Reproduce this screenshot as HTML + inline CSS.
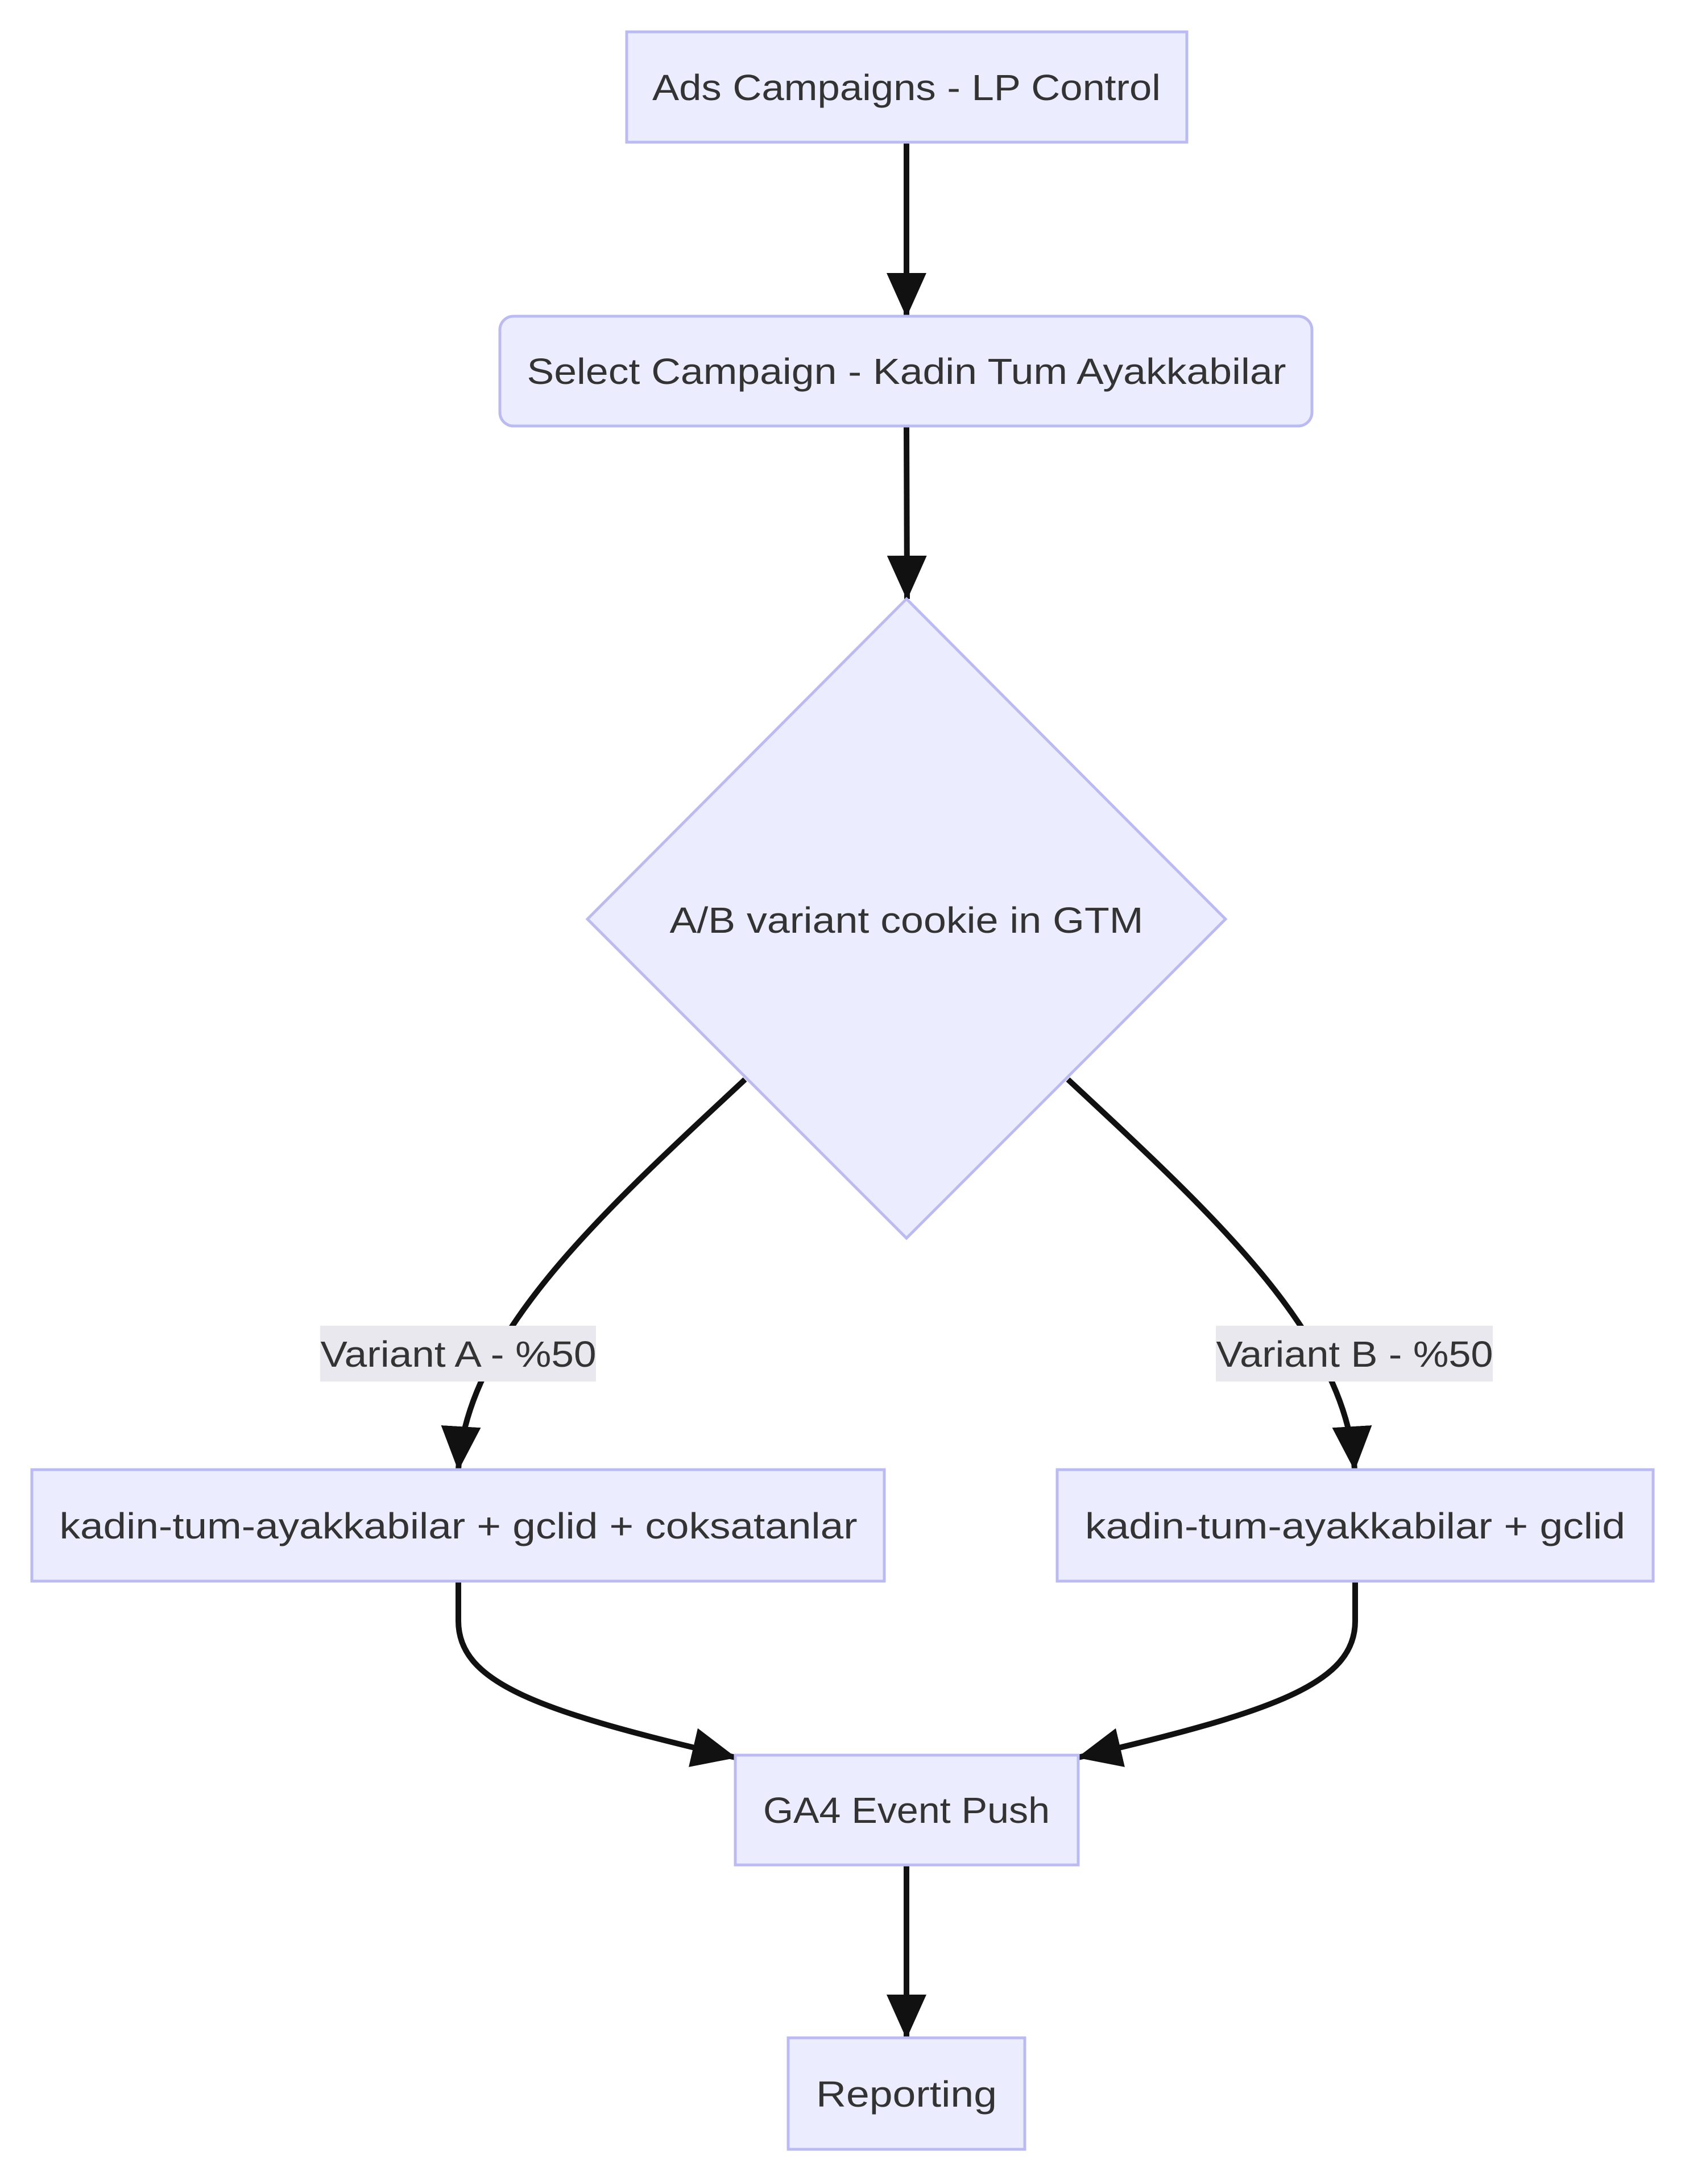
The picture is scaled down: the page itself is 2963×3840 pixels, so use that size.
<!DOCTYPE html>
<html><head><meta charset="utf-8"><style>
html,body{margin:0;padding:0;background:#fff;}
svg{display:block;}
text{font-family:"Liberation Sans",sans-serif;font-size:64px;fill:#333;}
</style></head><body>
<svg width="2963" height="3840" viewBox="0 0 2963 3840" xmlns="http://www.w3.org/2000/svg">
<defs>
<marker id="a" markerUnits="userSpaceOnUse" markerWidth="78" markerHeight="70" refX="76" refY="35" orient="auto">
<path d="M0,0 L78,35 L0,70 z" fill="#111"/>
</marker>
</defs>
<g fill="none" stroke="#111" stroke-width="10">
<path d="M1594 250 L1594 556" marker-end="url(#a)"/>
<path d="M1594 749 L1595 1053" marker-end="url(#a)"/>
<path d="M1310 1898 C1050 2140 820 2350 806 2584" marker-end="url(#a)"/>
<path d="M1878 1898 C2138 2140 2368 2350 2382 2584" marker-end="url(#a)"/>
<path d="M806 2780 L806 2850 C806 2960 950 3010 1293 3090" marker-end="url(#a)"/>
<path d="M2383 2780 L2383 2850 C2383 2960 2240 3010 1896 3090" marker-end="url(#a)"/>
<path d="M1594 3279 L1594 3583" marker-end="url(#a)"/>
</g>
<g fill="#ECECFF" stroke="#BBBBF2" stroke-width="5">
<rect x="1102" y="56" width="985" height="194"/>
<rect x="879" y="556" width="1428" height="193" rx="24"/>
<polygon points="1594,1053 2155,1616 1594,2177 1033,1616"/>
<rect x="56" y="2584" width="1499" height="196"/>
<rect x="1859" y="2584" width="1048" height="196"/>
<rect x="1293" y="3086" width="603" height="193"/>
<rect x="1386" y="3583" width="416" height="196"/>
</g>
<rect x="563" y="2331" width="485" height="98" fill="#E8E8EE"/>
<rect x="2138" y="2331" width="487" height="98" fill="#E8E8EE"/>
<g text-anchor="middle">
<text x="1594" y="176" textLength="894" lengthAdjust="spacingAndGlyphs">Ads Campaigns - LP Control</text>
<text x="1594" y="675" textLength="1335" lengthAdjust="spacingAndGlyphs">Select Campaign - Kadin Tum Ayakkabilar</text>
<text x="1594" y="1640" textLength="833" lengthAdjust="spacingAndGlyphs">A/B variant cookie in GTM</text>
<text x="806" y="2403" textLength="485" lengthAdjust="spacingAndGlyphs">Variant A - %50</text>
<text x="2382" y="2403" textLength="487" lengthAdjust="spacingAndGlyphs">Variant B - %50</text>
<text x="806" y="2705" textLength="1403" lengthAdjust="spacingAndGlyphs">kadin-tum-ayakkabilar + gclid + coksatanlar</text>
<text x="2383" y="2705" textLength="950" lengthAdjust="spacingAndGlyphs">kadin-tum-ayakkabilar + gclid</text>
<text x="1594" y="3205" textLength="504" lengthAdjust="spacingAndGlyphs">GA4 Event Push</text>
<text x="1594" y="3704" textLength="318" lengthAdjust="spacingAndGlyphs">Reporting</text>
</g>
</svg>
</body></html>
